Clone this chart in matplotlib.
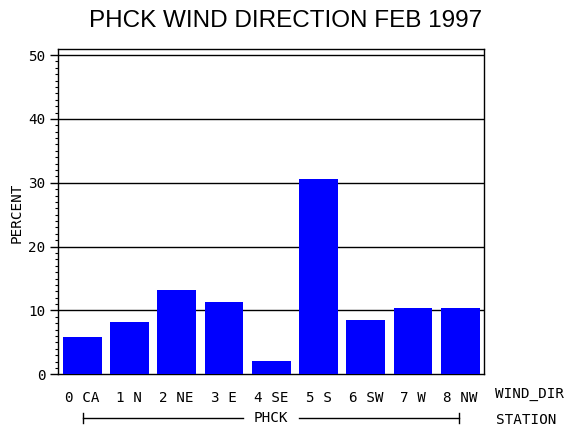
import matplotlib
matplotlib.use("Agg")
import matplotlib.pyplot as plt
from matplotlib.ticker import MultipleLocator
import numpy as np

# data
wind_dir = ["0 CA", "1 N", "2 NE", "3 E", "4 SE", "5 S", "6 SW", "7 W", "8 NW"]
percent = [5.9, 8.2, 13.2, 11.3, 2.1, 30.6, 8.5, 10.4, 10.4]
y_ticks = [0, 10, 20, 30, 40, 50]
station = "PHCK"
title = "PHCK WIND DIRECTION FEB 1997"

mono = "DejaVu Sans Mono"
fs = 10.3

fig = plt.figure(figsize=(5.7, 4.3), dpi=100)
ax = fig.add_axes([0.1018, 0.1295, 0.7472, 0.7565])

x = np.arange(len(wind_dir))
ax.bar(x, percent, width=0.82, color="#0000ff", zorder=3)

ax.set_xlim(-0.51, len(wind_dir) - 0.5)
ax.set_ylim(0, 50.95)

# horizontal reference lines
for yv in y_ticks[1:]:
    ax.axhline(yv, color="black", lw=1.0, zorder=2)

ax.set_yticks(y_ticks)
ax.set_yticklabels([str(v) for v in y_ticks], family=mono, fontsize=fs)
ax.yaxis.set_minor_locator(MultipleLocator(1))
ax.tick_params(axis="y", which="major", direction="out", length=6, width=1, pad=3)
ax.tick_params(axis="y", which="minor", direction="out", length=2.5, width=0.8)

ax.set_xticks(x)
ax.set_xticklabels(wind_dir, family=mono, fontsize=fs)
ax.tick_params(axis="x", length=0, pad=12)

for s in ax.spines.values():
    s.set_linewidth(1.0)

fig.text(17 / 570, 1 - 213 / 430, "PERCENT", family=mono, fontsize=fs,
         rotation=90, ha="center", va="center")

fig.text(495 / 570, 1 - 394 / 430, "WIND_DIR", family=mono, fontsize=fs,
         ha="left", va="center")
fig.text(496 / 570, 1 - 420 / 430, "STATION", family=mono, fontsize=fs,
         ha="left", va="center")

# station bracket under the categories
yb = 1 - 418 / 430
x0, x1 = 83 / 570, 459 / 570
fig.add_artist(plt.Line2D([x0, 243 / 570], [yb, yb], color="black", lw=1))
fig.add_artist(plt.Line2D([299 / 570, x1], [yb, yb], color="black", lw=1))
for xe in (x0, x1):
    fig.add_artist(plt.Line2D([xe, xe], [yb - 5 / 430, yb + 5 / 430],
                              color="black", lw=1))
fig.text(271 / 570, yb, station, family=mono, fontsize=fs,
         ha="center", va="center")

fig.text(286 / 570, 1 - 21 / 430, title, family="Liberation Sans",
         fontsize=17.5, ha="center", va="center")

fig.savefig("out.png", dpi=100)
